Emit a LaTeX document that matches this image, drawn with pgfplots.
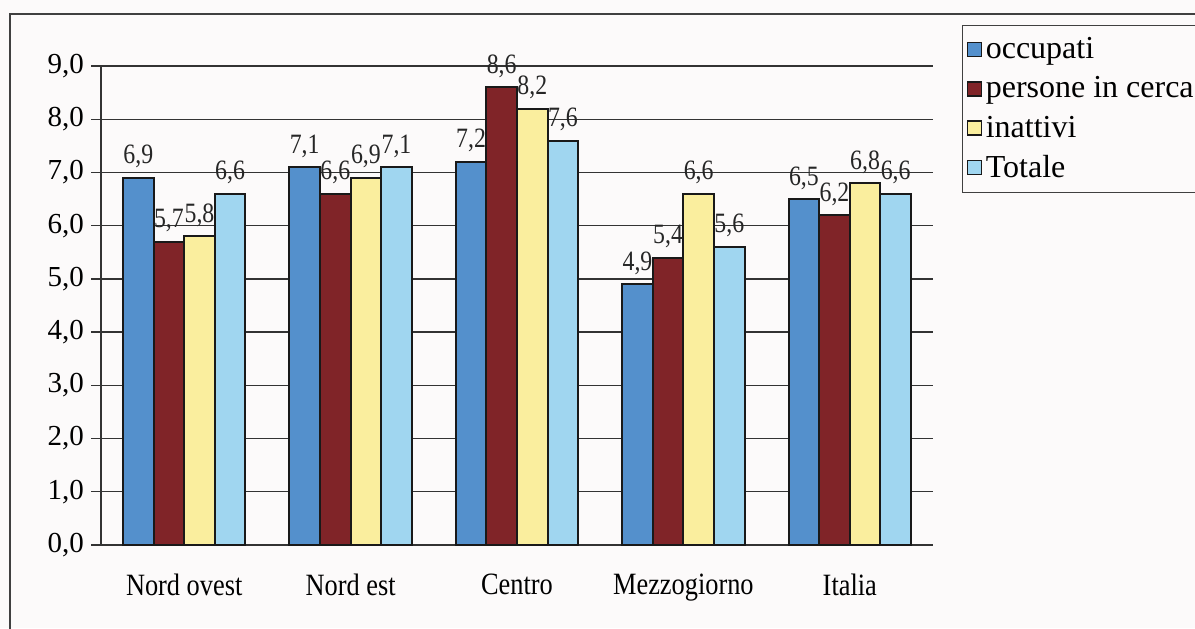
\documentclass[border=0pt]{standalone}
\usepackage{pgfplots}
\pgfplotsset{compat=1.18}
\usepackage{fontspec}
\setmainfont{Liberation Serif}
\newfontfamily\narrowfont[FakeStretch=0.85]{Liberation Serif}

\definecolor{occ}{RGB}{84,144,204}
\definecolor{pers}{RGB}{128,36,40}
\definecolor{inat}{RGB}{250,238,158}
\definecolor{tot}{RGB}{160,214,240}
\definecolor{bg}{RGB}{252,250,250}

\begin{document}
\begin{tikzpicture}[x=1pt,y=1pt]
  \useasboundingbox (0,0) rectangle (597.5,314);
  \fill[bg] (0,0) rectangle (597.5,314);
  \draw[line width=0.8pt,black!75] (5,-10) rectangle (620,307);
  \begin{axis}[
    at={(50.5pt,41.5pt)}, anchor=south west,
    scale only axis, width=416pt, height=239.5pt,
    ybar=0pt, bar width=15.3pt,
    xmin=-0.5, xmax=4.5, ymin=0, ymax=9,
    axis x line=bottom, axis y line=left,
    axis line style={-, black!80, line width=0.7pt},
    xtick={0,1,2,3,4},
    xticklabels={Nord ovest, Nord est, Centro, Mezzogiorno, Italia},
    xticklabel style={font=\narrowfont\fontsize{15.5}{18}\selectfont, yshift=-6pt},
    extra x ticks={-0.5,0.5,1.5,2.5,3.5,4.5},
    extra x tick labels={},
    extra x tick style={major tick length=5pt, tick style={black!80, line width=0.7pt}},
    major x tick style={draw=none},
    ytick={0,1,...,9},
    tick align=outside, major tick length=5pt,
    ytick style={black!80, line width=0.7pt},
    yticklabel style={font=\fontsize{14.5}{17}\selectfont},
    ymajorgrids, grid style={black!80, line width=0.7pt},
    /pgf/number format/.cd, fixed, fixed zerofill, precision=1, use comma, assume math mode=true,
    /pgfplots/.cd,
    nodes near coords,
    every node near coord/.append style={font=\narrowfont\fontsize{14}{17}\selectfont, black!85, yshift=1pt, inner xsep=0pt},
    every axis plot/.append style={draw=black!90, line width=1pt},
    legend style={at={(1.0349,1.0856)}, anchor=north west,
      font=\fontsize{16}{19.5}\selectfont, draw=black!75, line width=0.6pt,
      fill=bg, inner xsep=2pt, inner ysep=4pt, row sep=3.5pt,
      /tikz/every even column/.append style={column sep=1pt}},
    legend image code/.code={\draw[#1, line width=0.6pt] (0pt,-3.5pt) rectangle (7pt,3.5pt);},
    legend cell align=left,
  ]
    \addplot[fill=occ] coordinates {(0,6.9) (1,7.1) (2,7.2) (3,4.9) (4,6.5)};
    \addplot[fill=pers] coordinates {(0,5.7) (1,6.6) (2,8.6) (3,5.4) (4,6.2)};
    \addplot[fill=inat] coordinates {(0,5.8) (1,6.9) (2,8.2) (3,6.6) (4,6.8)};
    \addplot[fill=tot] coordinates {(0,6.6) (1,7.1) (2,7.6) (3,5.6) (4,6.6)};
    \legend{occupati, persone in cerca, inattivi, Totale}
  \end{axis}
\end{tikzpicture}
\end{document}
